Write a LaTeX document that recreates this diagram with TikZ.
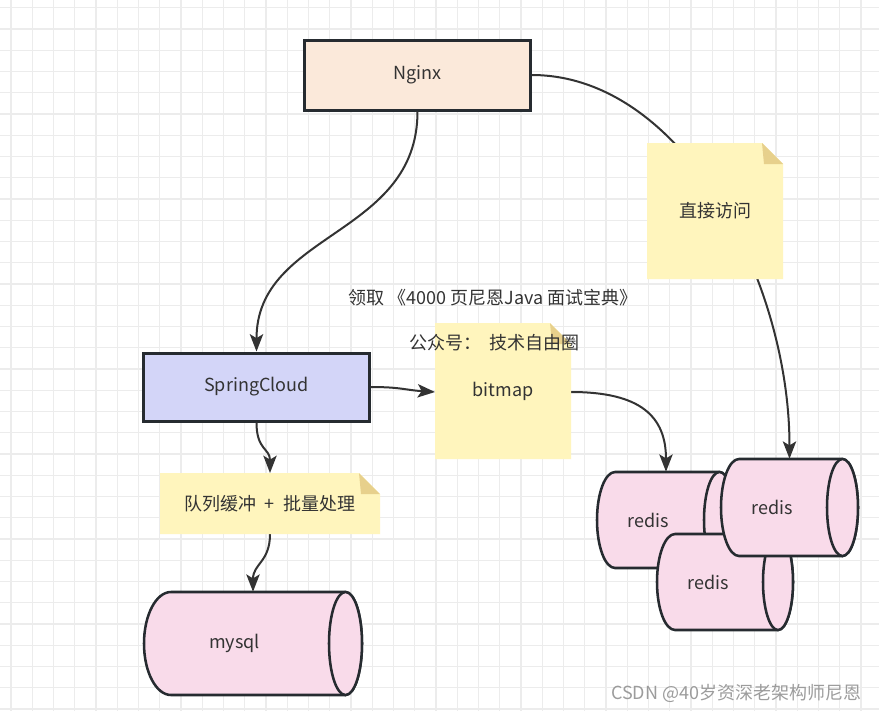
\documentclass[tikz,border=0pt]{standalone}
\usepackage{fontspec}
\setmainfont{Noto Sans CJK SC}
\usetikzlibrary{arrows.meta}
\definecolor{gridcol}{HTML}{ECECEC}
\definecolor{bordercol}{HTML}{262B30}
\definecolor{linecol}{HTML}{333333}
\definecolor{txtcol}{HTML}{333333}
\definecolor{nginxfill}{HTML}{FBE9DA}
\definecolor{springfill}{HTML}{D3D5F8}
\definecolor{notefill}{HTML}{FFF5BD}
\definecolor{foldfill}{HTML}{E7D08C}
\definecolor{cylfill}{HTML}{F9DBEA}
\definecolor{markcol}{HTML}{9C9C9C}

\newcommand{\stickynote}[7]{% name, L, T, R, B, fold, text
  \fill[notefill] (#2,#3) -- (#4-#6,#3) -- (#4,#3+#6) -- (#4,#5) -- (#2,#5) -- cycle;
  \fill[foldfill] (#4-#6,#3) -- (#4,#3+#6) -- (#4-#6+2,#3+#6) -- cycle;
  \node[lbl, inner sep=0pt, minimum width={(#4-#2)*0.75pt}, minimum height={(#5-#3)*0.75pt}]
    (#1) at ({(#2+#4)/2},{(#3+#5)/2}) {#7};
}
\newcommand{\hcyl}[8]{% name, L, T, R, B, left rx, right rx, text
  \pgfmathsetmacro{\cylry}{(#5-#3)/2*0.75}
  \pgfmathsetmacro{\cylrl}{#6*0.75}
  \pgfmathsetmacro{\cylrr}{#7*0.75}
  \pgfmathsetmacro{\cylcy}{(#3+#5)/2}
  \filldraw[cylstyle] (#4-#7,#3) -- (#2+#6,#3)
     arc[start angle=90, end angle=270, x radius=\cylrl pt, y radius=\cylry pt]
     -- (#4-#7,#5)
     arc[start angle=-90, end angle=90, x radius=\cylrr pt, y radius=\cylry pt] -- cycle;
  \draw[cylstyle] (#4-#7,\cylcy) ellipse [x radius=\cylrr pt, y radius=\cylry pt];
  \node[inner sep=0pt, minimum width={(#4-#2)*0.75pt}, minimum height={(#5-#3)*0.75pt}]
    (#1) at ({(#2+#4)/2},\cylcy) {};
  \node[lbl] at ({(#2+#4-2*#7)/2-2},\cylcy) {#8};
}

\begin{document}
\begin{tikzpicture}[x=0.75pt, y=-0.75pt,
  gridline/.style={draw=gridcol, line width=0.9pt},
  lbl/.style={font=\fontsize{13.5}{16}\selectfont, text=txtcol},
  box/.style={lbl, draw=bordercol, line width=2.25pt, inner sep=0pt, minimum width=169pt},
  cylstyle/.style={fill=cylfill, draw=bordercol, line width=1.9pt},
  conn/.style={draw=linecol, line width=1.5pt, -{Stealth[length=13pt, width=10pt, inset=3pt]}},
  wmark/.style={font=\fontsize{13.5}{16}\selectfont, text=markcol}
]
\useasboundingbox (0,0) rectangle (879,711);
\fill[white] (0,0) rectangle (879,711);
\foreach \i in {0,...,41} \draw[gridline] ({11+21.25*\i},0) -- ({11+21.25*\i},711);
\foreach \j in {0,...,33} \draw[gridline] (0,{7.8+21.25*\j}) -- (879,{7.8+21.25*\j});

% boxes
\node[box, fill=nginxfill, minimum height=52.5pt] (nginx) at (417.5,75) {Nginx};
\node[box, fill=springfill, minimum height=51pt] (spring) at (256.5,387) {SpringCloud};

% cylinders
\hcyl{redisA}{597}{472}{735}{568}{18}{15.5}{redis}
\hcyl{redisC}{657}{534}{793}{630}{18}{15}{redis}
\hcyl{redisB}{721}{459}{858}{556}{18}{15.5}{redis}
\hcyl{mysql}{144}{592}{362}{695}{27}{16.5}{mysql}

% connectors
\draw[conn] (nginx.south) .. controls +(0,125) and +(0,-120) .. (spring.north);
\draw[conn] (nginx.east) .. controls +(150,0) and +(0,-180) .. (redisB.north);
\draw[conn] (spring.east) .. controls +(30,0) and +(-30,-2) .. (435,392) coordinate (bitmapin);
\draw[conn] (spring.south) .. controls +(0,28) and +(0,-25) .. (270,473) coordinate (queuein);
\draw[conn] (270,534) coordinate (queueout) .. controls +(0,28) and +(0,-28) .. (mysql.north);
\draw[conn] (571,392) coordinate (bitmapout) .. controls +(70,0) and +(0,-55) .. (redisA.north);

% notes
\stickynote{access}{647}{143}{783}{279}{21}{直接访问}
\stickynote{bitmap}{435}{323}{571}{459}{21}{bitmap}
\stickynote{queue}{160}{473}{380}{534}{21}{队列缓冲\hspace{0.45em}+\hspace{0.45em}批量处理}

% free texts
\node[lbl] (ad1) at (493,298) {领取 《4000 页尼恩Java 面试宝典》};
\node[lbl] (ad2) at (494.5,343) {公众号：\ \ 技术自由圈};
\node[wmark, anchor=east] (wm) at (866,693) {CSDN @40岁资深老架构师尼恩};
\end{tikzpicture}
\end{document}
